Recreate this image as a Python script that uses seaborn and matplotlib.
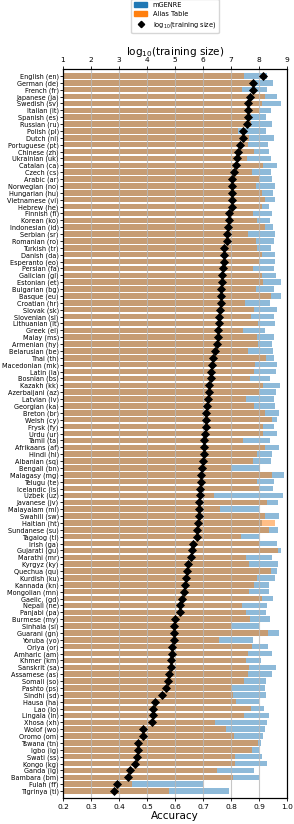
import matplotlib
matplotlib.use("Agg")
import matplotlib.pyplot as plt
import seaborn as sns
import pandas as pd
import numpy as np
from matplotlib.patches import Patch
from matplotlib.lines import Line2D

languages = [
    "English (en)", "German (de)", "French (fr)", "Japanese (ja)", "Swedish (sv)",
    "Italian (it)", "Spanish (es)", "Russian (ru)", "Polish (pl)", "Dutch (nl)",
    "Portuguese (pt)", "Chinese (zh)", "Ukrainian (uk)", "Catalan (ca)", "Czech (cs)",
    "Arabic (ar)", "Norwegian (no)", "Hungarian (hu)", "Vietnamese (vi)", "Hebrew (he)",
    "Finnish (fi)", "Korean (ko)", "Indonesian (id)", "Serbian (sr)", "Romanian (ro)",
    "Turkish (tr)", "Danish (da)", "Esperanto (eo)", "Persian (fa)", "Galician (gl)",
    "Estonian (et)", "Bulgarian (bg)", "Basque (eu)", "Croatian (hr)", "Slovak (sk)",
    "Slovenian (sl)", "Lithuanian (lt)", "Greek (el)", "Malay (ms)", "Armenian (hy)",
    "Belarusian (be)", "Thai (th)", "Macedonian (mk)", "Latin (la)", "Bosnian (bs)",
    "Kazakh (kk)", "Azerbaijani (az)", "Latvian (lv)", "Georgian (ka)", "Breton (br)",
    "Welsh (cy)", "Frysk (fy)", "Urdu (ur)", "Tamil (ta)", "Afrikaans (af)",
    "Hindi (hi)", "Albanian (sq)", "Bengali (bn)", "Malagasy (mg)", "Telugu (te)",
    "Icelandic (is)", "Uzbek (uz)", "Javanese (jv)", "Malayalam (ml)", "Swahili (sw)",
    "Haitian (ht)", "Sundanese (su)", "Tagalog (tl)", "Irish (ga)", "Gujarati (gu)",
    "Marathi (mr)", "Kyrgyz (ky)", "Quechua (qu)", "Kurdish (ku)", "Kannada (kn)",
    "Mongolian (mn)", "Gaelic, (gd)", "Nepali (ne)", "Panjabi (pa)", "Burmese (my)",
    "Sinhala (si)", "Guarani (gn)", "Yoruba (yo)", "Oriya (or)", "Amharic (am)",
    "Khmer (km)", "Sanskrit (sa)", "Assamese (as)", "Somali (so)", "Pashto (ps)",
    "Sindhi (sd)", "Hausa (ha)", "Lao (lo)", "Lingala (ln)", "Xhosa (xh)",
    "Wolof (wo)", "Oromo (om)", "Tswana (tn)", "Igbo (ig)", "Swati (ss)",
    "Kongo (kg)", "Ganda (lg)", "Bambara (bm)", "Fulah (ff)", "Tigrinya (ti)",
]

mgenre = [
    0.927, 0.949, 0.927, 0.963, 0.977, 0.943, 0.925, 0.946, 0.925, 0.954,
    0.932, 0.937, 0.944, 0.963, 0.942, 0.945, 0.956, 0.951, 0.958, 0.935,
    0.945, 0.939, 0.949, 0.957, 0.954, 0.942, 0.956, 0.956, 0.954, 0.961,
    0.977, 0.955, 0.977, 0.939, 0.963, 0.955, 0.956, 0.920, 0.954, 0.945,
    0.950, 0.954, 0.963, 0.960, 0.939, 0.975, 0.961, 0.952, 0.958, 0.970,
    0.965, 0.954, 0.966, 0.939, 0.970, 0.945, 0.942, 0.904, 0.989, 0.955,
    0.950, 0.987, 0.968, 0.901, 0.972, 0.910, 0.969, 0.901, 0.965, 0.980,
    0.945, 0.968, 0.963, 0.956, 0.937, 0.937, 0.950, 0.930, 0.924, 0.939,
    0.901, 0.970, 0.880, 0.933, 0.945, 0.906, 0.961, 0.946, 0.924, 0.921,
    0.924, 0.901, 0.918, 0.937, 0.927, 0.921, 0.915, 0.908, 0.901, 0.912,
    0.927, 0.883, 0.901, 0.699, 0.792,
]

alias_table = [
    0.848, 0.880, 0.838, 0.922, 0.911, 0.901, 0.870, 0.870, 0.826, 0.866,
    0.862, 0.882, 0.858, 0.915, 0.874, 0.900, 0.889, 0.910, 0.921, 0.910,
    0.877, 0.894, 0.921, 0.860, 0.889, 0.894, 0.910, 0.900, 0.880, 0.911,
    0.915, 0.889, 0.943, 0.850, 0.882, 0.871, 0.897, 0.844, 0.893, 0.895,
    0.859, 0.925, 0.886, 0.882, 0.868, 0.913, 0.900, 0.855, 0.882, 0.921,
    0.946, 0.915, 0.913, 0.844, 0.922, 0.894, 0.877, 0.800, 0.946, 0.894,
    0.900, 0.739, 0.927, 0.761, 0.921, 0.957, 0.937, 0.836, 0.900, 0.967,
    0.852, 0.864, 0.943, 0.894, 0.882, 0.864, 0.911, 0.840, 0.855, 0.868,
    0.800, 0.931, 0.758, 0.875, 0.860, 0.854, 0.865, 0.860, 0.847, 0.802,
    0.807, 0.817, 0.871, 0.847, 0.742, 0.782, 0.811, 0.896, 0.875, 0.814,
    0.814, 0.751, 0.807, 0.445, 0.580,
]

log_training_size = [
    8.14, 7.80, 7.77, 7.68, 7.62, 7.62, 7.60, 7.57, 7.43, 7.42,
    7.32, 7.24, 7.23, 7.18, 7.11, 7.03, 7.02, 7.02, 7.02, 7.02,
    6.94, 6.94, 6.90, 6.87, 6.87, 6.76, 6.76, 6.76, 6.70, 6.69,
    6.68, 6.65, 6.65, 6.63, 6.61, 6.57, 6.56, 6.54, 6.52, 6.50,
    6.42, 6.35, 6.31, 6.30, 6.29, 6.21, 6.20, 6.19, 6.15, 6.12,
    6.11, 6.10, 6.07, 6.05, 6.05, 6.02, 5.99, 5.98, 5.94, 5.93,
    5.90, 5.88, 5.87, 5.87, 5.85, 5.83, 5.80, 5.78, 5.65, 5.62,
    5.57, 5.45, 5.42, 5.40, 5.37, 5.33, 5.26, 5.19, 5.17, 4.99,
    4.95, 4.95, 4.95, 4.90, 4.89, 4.87, 4.87, 4.80, 4.74, 4.68,
    4.54, 4.30, 4.23, 4.22, 4.17, 3.87, 3.85, 3.69, 3.67, 3.63,
    3.57, 3.39, 3.33, 2.94, 2.83,
]

acc_ticks = [0.2, 0.3, 0.4, 0.5, 0.6, 0.7, 0.8, 0.9, 1.0]
log_ticks = [1, 2, 3, 4, 5, 6, 7, 8, 9]

df = pd.DataFrame({
    "language": languages,
    "mGENRE": mgenre,
    "Alias Table": alias_table,
    "log": log_training_size,
})

BLUE = "#1f77b4"
ORANGE = "#ff7f0e"

W, H = 294, 824
fig = plt.figure(figsize=(W / 100, H / 100), dpi=100)
ax = fig.add_axes([63 / W, 1 - 798 / H, 224 / W, 729 / H])

sns.barplot(data=df, x="mGENRE", y="language", color=BLUE, alpha=0.5,
            saturation=1, ax=ax, orient="h", width=0.8)
sns.barplot(data=df, x="Alias Table", y="language", color=ORANGE, alpha=0.5,
            saturation=1, ax=ax, orient="h", width=0.8)

ax.set_xlim(acc_ticks[0], acc_ticks[-1])
ax.set_xticks(acc_ticks)
ax.set_xticklabels([f"{t:.1f}" for t in acc_ticks])
ax.set_axisbelow(False)
ax.grid(axis="x", color="#b8b8b8", linewidth=0.8, alpha=0.8)
ax.set_xlabel("Accuracy", fontsize=7.5, labelpad=1)
ax.set_ylabel("")
ax.tick_params(axis="y", labelsize=4.7, length=2, pad=1, width=0.6)
ax.tick_params(axis="x", labelsize=5.4, length=2.5, pad=1.5, width=0.6)

ax2 = ax.twiny()
sns.pointplot(data=df, x="log", y="language", ax=ax2, color="black",
              markers="D", linestyles="none", errorbar=None, orient="h",
              markersize=2.6)
ax2.set_xlim(log_ticks[0], log_ticks[-1])
ax2.set_xticks(log_ticks)
ax2.set_xlabel("log$_{10}$(training size)", fontsize=7.5, labelpad=2)
ax2.tick_params(axis="x", labelsize=5.4, length=2.5, pad=1.5, width=0.6)
ax.set_ylim(len(languages), -1)

handles = [
    Patch(color=BLUE, label="mGENRE"),
    Patch(color=ORANGE, label="Alias Table"),
    Line2D([], [], color="black", marker="D", linestyle="none",
           markersize=3.2, label="log$_{10}$(training size)"),
]
fig.legend(handles=handles, loc="lower center",
           bbox_to_anchor=(175 / W, 1 - 33 / H), bbox_transform=fig.transFigure,
           fontsize=4.8, borderaxespad=0, frameon=True)

fig.savefig("out.png", dpi=100)
